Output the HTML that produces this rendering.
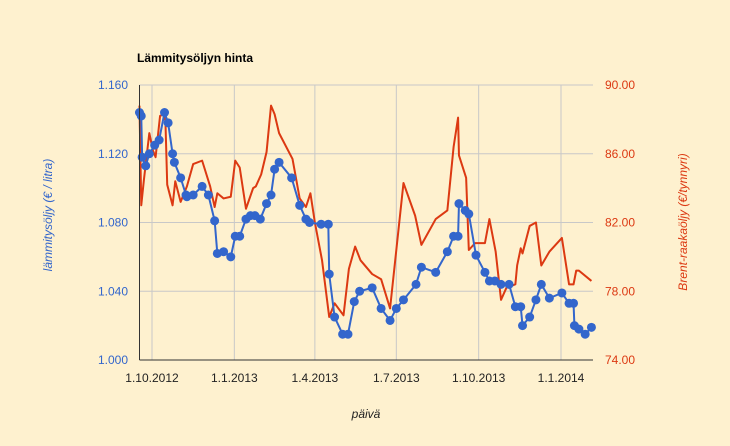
<!DOCTYPE html>
<html><head><meta charset="utf-8"><style>
body{margin:0;background:#fef1cf;}
svg{display:block;font-family:"Liberation Sans",Arial,sans-serif;}
</style></head><body>
<svg id="chart" width="730" height="446" xmlns="http://www.w3.org/2000/svg">
<rect width="730" height="446" fill="#fef1cf"/>
<text x="137" y="62" font-size="12" font-weight="bold" fill="#000">Lämmitysöljyn hinta</text>
<g id="grid"></g>
<g id="series"></g>
<g id="axes"></g>
<text transform="translate(52,215) rotate(-90)" text-anchor="middle" font-size="12" font-style="italic" fill="#3366cc">lämmitysöljy (€ / litra)</text>
<text transform="translate(687,222) rotate(-90)" text-anchor="middle" font-size="12" font-style="italic" fill="#dc3912">Brent-raakaöljy (€/tynnyri)</text>
<text x="366" y="418" text-anchor="middle" font-size="12" font-style="italic" fill="#222">päivä</text>
</svg>
<script>
// days since 1.10.2012
const oilDays = [-14,-12,-11,-7,-3,3,8,14,18,23,25,32,38,39,46,56,63,70,73,80,88,93,98,105,110,115,121,128,133,137,142,156,165,172,176,189,197,198,204,213,219,226,232,246,256,266,273,281,295,301,317,330,337,342,343,350,354,362,372,377,383,390,399,406,412,414,422,429,435,444,458,466,471,472,477,484,491];
const oilValues = [1.144,1.142,1.118,1.113,1.120,1.125,1.128,1.144,1.138,1.120,1.115,1.106,1.096,1.095,1.096,1.101,1.096,1.081,1.062,1.063,1.060,1.072,1.072,1.082,1.084,1.084,1.082,1.091,1.096,1.111,1.115,1.106,1.090,1.082,1.080,1.079,1.079,1.050,1.025,1.015,1.015,1.034,1.040,1.042,1.030,1.023,1.030,1.035,1.044,1.054,1.051,1.063,1.072,1.072,1.091,1.087,1.085,1.061,1.051,1.046,1.046,1.044,1.044,1.031,1.031,1.020,1.025,1.035,1.044,1.036,1.039,1.033,1.033,1.020,1.018,1.015,1.019];
const brentDays = [-14,-12,-9,-3,1,4,9,13,15,17,23,26,32,39,46,56,65,70,73,80,88,93,98,105,113,116,122,128,133,137,142,157,165,172,177,182,190,198,204,214,220,227,233,246,256,266,281,294,301,317,330,337,342,343,351,354,361,372,377,384,390,396,406,408,412,414,422,429,435,444,458,466,471,474,477,491];
const brentValues = [88.8,83.0,84.5,87.2,86.2,85.8,88.2,88.3,87.9,84.2,83.0,84.4,83.2,84.1,85.4,85.6,84.1,82.9,83.7,83.4,83.5,85.6,85.2,82.8,84.0,84.1,84.8,86.1,88.8,88.3,87.2,85.7,83.4,82.9,83.7,82.0,79.8,76.5,77.3,76.6,79.3,80.6,79.8,79.0,78.7,77.0,84.3,82.4,80.7,82.2,82.7,86.4,88.1,85.9,84.6,80.4,80.8,80.8,82.2,80.3,77.5,78.2,78.4,79.5,80.5,80.2,81.8,82.0,79.5,80.3,81.1,78.4,78.4,79.2,79.2,78.6];
const leftTicks = ["1.000","1.040","1.080","1.120","1.160"];
const rightTicks = ["74.00","78.00","82.00","86.00","90.00"];
const xTickLabels = ["1.10.2012","1.1.2013","1.4.2013","1.7.2013","1.10.2013","1.1.2014"];
const xTickDays = [0,92,182,273,365,457];

const NS="http://www.w3.org/2000/svg";
const X0=139.5,X1=593,Y0=360,Y1=85;
const xs=d=>152+d*(561-152)/457;
const yl=v=>Y0-(v-1.0)/0.16*(Y0-Y1);
const yr=v=>Y0-(v-74)/16*(Y0-Y1);
function mk(tag,attrs,parent){const e=document.createElementNS(NS,tag);for(const k in attrs)e.setAttribute(k,attrs[k]);parent.appendChild(e);return e;}
const grid=document.getElementById('grid'),axes=document.getElementById('axes'),ser=document.getElementById('series');
leftTicks.forEach((t,i)=>{
  const y=yl(parseFloat(t));
  if(i>0){const g=mk('line',{x1:X0,x2:X1,y1:y,y2:y,stroke:'#c8c8c8','stroke-width':1},grid);
  
  }
  const l=mk('text',{x:128,y:y+4,'text-anchor':'end','font-size':12,fill:'#3366cc'},axes);l.textContent=t;
  
  
});
rightTicks.forEach(t=>{
  const y=yr(parseFloat(t));
  const l=mk('text',{x:605,y:y+4,'font-size':12,fill:'#dc3912'},axes);l.textContent=t;
  
  
});
xTickLabels.forEach((t,i)=>{
  const x=xs(xTickDays[i]);
  const g=mk('line',{x1:x,x2:x,y1:Y1,y2:Y0,stroke:'#c8c8c8','stroke-width':1},grid);
  
  
  const l=mk('text',{x:x,y:382,'text-anchor':'middle','font-size':12,fill:'#222'},axes);l.textContent=t;
  
  
});
const ax=mk('line',{x1:X0,x2:X0,y1:Y1,y2:Y0,stroke:'#333','stroke-width':1},axes);


const bx=mk('line',{x1:X0,x2:X1,y1:Y0,y2:Y0,stroke:'#333','stroke-width':1},axes);


const rp=mk('polyline',{points:brentDays.map((d,i)=>xs(d)+','+yr(brentValues[i])).join(' '),fill:'none',stroke:'#dc3912','stroke-width':2,'stroke-linejoin':'round'},ser);


const bp=mk('polyline',{points:oilDays.map((d,i)=>xs(d)+','+yl(oilValues[i])).join(' '),fill:'none',stroke:'#3366cc','stroke-width':2,'stroke-linejoin':'round'},ser);


oilDays.forEach((d,i)=>{
  const c=mk('circle',{cx:xs(d),cy:yl(oilValues[i]),r:4.5,fill:'#3366cc'},ser);
  
  
});
</script>
</body></html>
